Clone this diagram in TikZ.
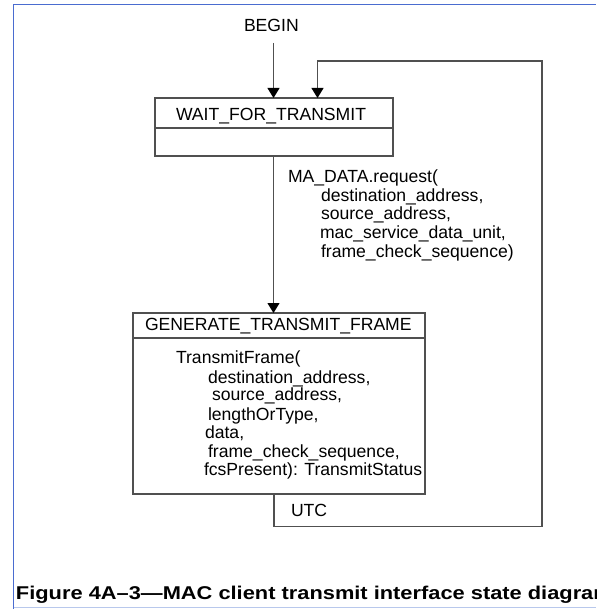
\documentclass[tikz,border=0pt]{standalone}
\usepackage{fontspec}
\setmainfont{Liberation Sans}
\usetikzlibrary{arrows.meta}
\definecolor{lineclr}{HTML}{505050}
\definecolor{frameblue}{HTML}{4A6CD0}
\definecolor{framelight}{HTML}{B8C8EC}
\tikzset{
  every node/.style={inner sep=0pt, outer sep=0pt},
  txt/.style={anchor=base west, font=\fontsize{17.6}{19}\selectfont, text=black},
  statebox/.style={draw=lineclr, line width=1.1pt, rectangle, anchor=north west},
  conn/.style={draw=lineclr, line width=1.1pt},
  arr/.style={conn, -{Triangle[length=10pt,width=12pt,color=black]}, shorten >=0pt},
  caption/.style={anchor=base west, font=\fontsize{18.5}{20}\selectfont\bfseries, text=black}
}
\begin{document}
\begin{tikzpicture}[x=1pt,y=-1pt]
\clip (0,0) rectangle (596,609);
\fill[white] (0,0) rectangle (596,609);
% frame
\draw[frameblue, line width=1.6pt] (13.5,609) -- (13.5,4.5) -- (596,4.5);
\draw[framelight, line width=1.2pt] (13.5,607.5) -- (596,607.5);

% states
\node[statebox, minimum width=238pt, minimum height=58pt] (wait) at (155,98) {};
\draw[conn] (155,128) -- (394,128);
\node[txt] (waitt) at (176,121) {WAIT\_FOR\_TRANSMIT};

\node[statebox, minimum width=292pt, minimum height=181pt] (gen) at (133,313) {};
\draw[conn] (133,338) -- (425,338);
\node[txt] (gent) at (145,330) {GENERATE\_TRANSMIT\_FRAME};

\node[txt] (b1) at (176,363) {TransmitFrame(};
\node[txt] (b2) at (208,383) {destination\_address,};
\node[txt] (b3) at (212,400) {source\_address,};
\node[txt] (b4) at (208,420) {lengthOrType,};
\node[txt] (b5) at (205,438) {data,};
\node[txt] (b6) at (208,457) {frame\_check\_sequence,};
\node[txt] (b7) at (204,475) {fcsPresent): TransmitStatus};

% begin
\node[txt] (begin) at (244,32) {BEGIN};
\coordinate (bstart) at (273.5,43);
\draw[arr] (bstart) -- (bstart |- wait.north);

% transition wait -> generate
\draw[arr] (wait.south -| 273.5,0) -- (gen.north -| 273.5,0);
\node[txt] (m1) at (288,183) {MA\_DATA.request(};
\node[txt] (m2) at (321,202) {destination\_address,};
\node[txt] (m3) at (321,220) {source\_address,};
\node[txt] (m4) at (320,239) {mac\_service\_data\_unit,};
\node[txt] (m5) at (321,257) {frame\_check\_sequence)};

% UTC loop
\coordinate (c1) at (274,526.5);
\coordinate (c2) at (542,526.5);
\coordinate (c3) at (542,61);
\coordinate (c4) at (317.5,61);
\draw[arr] (gen.south -| c1) -- (c1) -- (c2) -- (c3) -- (c4) -- (c4 |- wait.north);
\node[txt] (utc) at (291,516) {UTC};

% caption
\node[caption] (cap) at (16,599) {\scalebox{1.18}[1]{Figure 4A–3—MAC client transmit interface state diagram}};
\end{tikzpicture}
\end{document}
